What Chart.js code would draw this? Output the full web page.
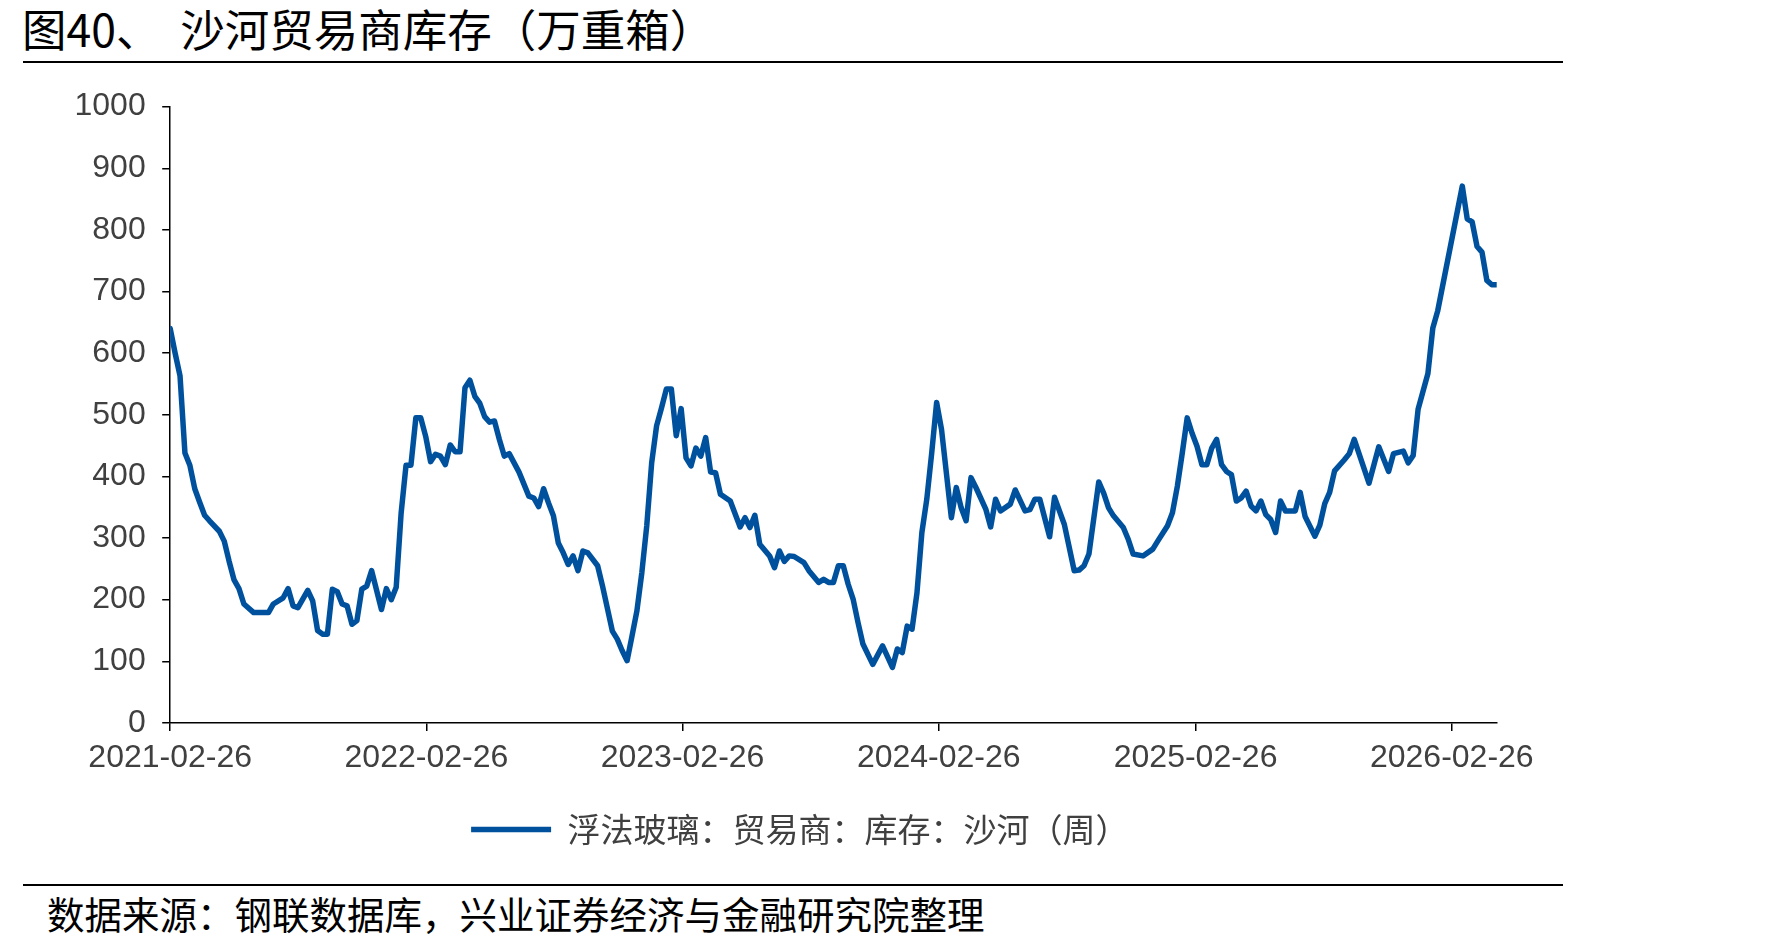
<!DOCTYPE html>
<html lang="zh-CN">
<head>
<meta charset="utf-8">
<title>沙河贸易商库存</title>
<script src="https://cdn.jsdelivr.net/npm/chart.js@4.4.1/dist/chart.umd.min.js"></script>
<style>
  html, body { margin: 0; padding: 0; background: #fff; }
  body { width: 1779px; height: 946px; position: relative; overflow: hidden; font-family: "Noto Sans CJK SC", sans-serif; }
  #title { position: absolute; left: 22px; top: 1px; font-size: 44.5px; line-height: 54px; color: #000; white-space: pre; }
  .rule { position: absolute; left: 23px; width: 1540px; height: 2px; background: #000; }
  #chartBox { position: absolute; left: 23px; top: 70px; width: 1540px; height: 800px; }
  #source { position: absolute; left: 47px; top: 890px; font-size: 37.5px; line-height: 46px; color: #000; white-space: pre; }
</style>
</head>
<body>
<div id="title">图40、  沙河贸易商库存（万重箱）</div>
<div class="rule" style="top: 61px;"></div>
<div id="chartBox"><canvas id="stockChart"></canvas></div>
<div class="rule" style="top: 884px;"></div>
<div id="source">数据来源：钢联数据库，兴业证券经济与金融研究院整理</div>

<script>
// 周度数据
const dates = [
    '2021-02-26', '2021-03-05', '2021-03-12', '2021-03-19', '2021-03-26', '2021-04-02', '2021-04-09', '2021-04-16',
    '2021-04-23', '2021-05-07', '2021-05-14', '2021-05-21', '2021-05-28', '2021-06-04', '2021-06-11', '2021-06-25',
    '2021-07-16', '2021-07-23', '2021-08-06', '2021-08-13', '2021-08-20', '2021-08-27', '2021-09-10', '2021-09-17',
    '2021-09-24', '2021-10-01', '2021-10-08', '2021-10-15', '2021-10-22', '2021-10-29', '2021-11-05', '2021-11-12',
    '2021-11-19', '2021-11-26', '2021-12-03', '2021-12-10', '2021-12-24', '2021-12-31',
    '2022-01-07', '2022-01-14', '2022-01-21', '2022-01-28', '2022-02-04', '2022-02-11', '2022-02-18', '2022-02-25',
    '2022-03-04', '2022-03-11', '2022-03-18', '2022-03-25', '2022-04-01', '2022-04-08', '2022-04-15', '2022-04-22',
    '2022-04-29', '2022-05-06', '2022-05-13', '2022-05-20', '2022-05-27', '2022-06-03', '2022-06-10', '2022-06-17',
    '2022-06-24', '2022-07-01', '2022-07-08', '2022-07-22', '2022-07-29', '2022-08-05', '2022-08-12', '2022-08-19',
    '2022-08-26', '2022-09-02', '2022-09-09', '2022-09-16', '2022-09-23', '2022-09-30', '2022-10-07', '2022-10-14',
    '2022-10-28', '2022-11-04', '2022-11-18', '2022-11-25', '2022-12-02', '2022-12-09', '2022-12-16', '2022-12-23',
    '2022-12-30',
    '2023-01-06', '2023-01-13', '2023-01-20', '2023-01-27', '2023-02-03', '2023-02-10', '2023-02-17', '2023-02-24',
    '2023-03-03', '2023-03-10', '2023-03-17', '2023-03-24', '2023-03-31', '2023-04-07', '2023-04-14', '2023-04-21',
    '2023-05-05', '2023-05-19', '2023-05-26', '2023-06-02', '2023-06-09', '2023-06-16', '2023-06-30', '2023-07-07',
    '2023-07-14', '2023-07-21', '2023-07-28', '2023-08-04', '2023-08-18', '2023-08-25', '2023-09-08', '2023-09-15',
    '2023-09-22', '2023-09-29', '2023-10-06', '2023-10-13', '2023-10-20', '2023-10-27', '2023-11-03', '2023-11-10',
    '2023-11-24', '2023-12-08', '2023-12-22', '2023-12-29',
    '2024-01-05', '2024-01-12', '2024-01-19', '2024-01-26', '2024-02-02', '2024-02-09', '2024-02-16', '2024-02-23',
    '2024-03-01', '2024-03-15', '2024-03-22', '2024-03-29', '2024-04-05', '2024-04-12', '2024-04-19', '2024-05-03',
    '2024-05-10', '2024-05-17', '2024-05-24', '2024-06-07', '2024-06-14', '2024-06-28', '2024-07-05', '2024-07-12',
    '2024-07-19', '2024-08-02', '2024-08-09', '2024-08-23', '2024-09-06', '2024-09-13', '2024-09-20', '2024-09-27',
    '2024-10-11', '2024-10-18', '2024-10-25', '2024-11-01', '2024-11-15', '2024-11-22', '2024-11-29', '2024-12-13',
    '2024-12-27',
    '2025-01-03', '2025-01-17', '2025-01-24', '2025-01-31', '2025-02-07', '2025-02-14', '2025-02-21', '2025-02-28',
    '2025-03-07', '2025-03-14', '2025-03-21', '2025-03-28', '2025-04-04', '2025-04-11', '2025-04-18', '2025-04-25',
    '2025-05-02', '2025-05-09', '2025-05-16', '2025-05-23', '2025-05-30', '2025-06-06', '2025-06-13', '2025-06-20',
    '2025-06-27', '2025-07-04', '2025-07-18', '2025-07-25', '2025-08-01', '2025-08-15', '2025-08-22', '2025-08-29',
    '2025-09-05', '2025-09-12', '2025-09-26', '2025-10-03', '2025-10-10', '2025-10-31', '2025-11-14', '2025-11-28',
    '2025-12-05', '2025-12-19', '2025-12-26',
    '2026-01-02', '2026-01-09', '2026-01-23', '2026-01-30', '2026-02-06', '2026-03-13', '2026-03-20', '2026-03-27',
    '2026-04-03', '2026-04-10', '2026-04-17', '2026-04-24', '2026-05-01'
];

const stockShahe = [
    640, 600, 563, 438, 418, 380, 358, 337,
    328, 311, 295, 262, 232, 218, 193, 179,
    179, 193, 203, 218, 190, 187, 215, 198,
    150, 144, 144, 217, 213, 193, 190, 160,
    166, 217, 222, 247, 184, 218,
    200, 220, 340, 418, 418, 495, 495, 465,
    424, 436, 433, 419, 451, 440, 440, 544,
    556, 530, 519, 497, 488, 490, 460, 433,
    437, 422, 407, 368, 365, 351, 380, 357,
    336, 292, 276, 257, 271, 247, 279, 276,
    255, 222, 149, 136, 117, 101, 141, 182,
    244,
    320, 422, 482, 511, 542, 542, 466, 510,
    430, 417, 446, 433, 463, 407, 406, 371,
    360, 318, 333, 317, 337, 290, 271, 252,
    279, 262, 271, 270, 260, 247, 228, 233,
    228, 228, 255, 255, 225, 201, 163, 128,
    95, 125, 90, 120,
    114, 157, 152, 211, 309, 363, 438, 520,
    476, 333, 382, 349, 328, 398, 382, 347,
    318, 363, 344, 355, 378, 344, 346, 363,
    363, 302, 366, 322, 247, 248, 255, 274,
    391, 373, 349, 336, 317, 298, 274, 271,
    282,
    295, 320, 341, 384, 438, 495, 470, 449,
    419, 419, 446, 460, 419, 408, 403, 360,
    365, 376, 352, 344, 360, 338, 330, 309,
    360, 344, 344, 374, 335, 303, 321, 356,
    374, 409, 427, 437, 460, 389, 448, 408,
    437, 441, 422,
    434, 509, 567, 641, 669, 871, 818, 813,
    773, 764, 718, 711, 711
];

const xTickDates = ['2021-02-26', '2022-02-26', '2023-02-26', '2024-02-26', '2025-02-26', '2026-02-26'];
const yTicks = [0, 100, 200, 300, 400, 500, 600, 700, 800, 900, 1000];

const seriesName = '浮法玻璃：贸易商：库存：沙河（周）';

function dayIndex(s) {
    const [y, m, d] = s.split('-').map(Number);
    return (Date.UTC(y, m - 1, d) - Date.UTC(2021, 1, 26)) / 86400000;
}

const points = dates.map((d, i) => ({ x: dayIndex(d), y: stockShahe[i] }));

// nudge the legend so it sits centred under the whole figure, not just the plot
const legendShift = {
    id: 'legendShift',
    afterLayout(chart) {
        const l = chart.legend;
        if (!l) return;
        l.left += 40;
        l.right += 40;
    }
};

const ctx = document.getElementById('stockChart').getContext('2d');
new Chart(ctx, {
    type: 'line',
    data: {
        datasets: [{
            label: seriesName,
            data: points,
            borderColor: '#00519D',
            backgroundColor: '#00519D',
            borderWidth: 5.5,
            borderJoinStyle: 'round',
            borderCapStyle: 'round',
            pointRadius: 0,
            pointStyle: 'line',
            tension: 0,
            fill: false
        }]
    },
    plugins: [legendShift],
    options: {
        responsive: true,
        maintainAspectRatio: false,
        animation: false,
        devicePixelRatio: 1,
        layout: { padding: { left: 0, right: 66.3, top: 36.65, bottom: 14 } },
        plugins: {
            title: { display: false },
            tooltip: { enabled: false },
            legend: {
                display: true,
                position: 'bottom',
                labels: {
                    usePointStyle: true,
                    pointStyle: 'line',
                    pointStyleWidth: 80,
                    boxHeight: 32,
                    padding: 10,
                    color: '#404040',
                    font: { family: '"Noto Sans CJK SC", sans-serif', size: 33 }
                }
            }
        },
        scales: {
            x: {
                type: 'linear',
                min: 0,
                max: dayIndex(dates[dates.length - 1]),
                afterBuildTicks: (s) => { s.ticks = xTickDates.map(d => ({ value: dayIndex(d) })); },
                afterFit: (s) => { s.height = 80.1; },
                border: { display: true, color: '#000', width: 1.5 },
                grid: { drawOnChartArea: false, drawTicks: true, tickLength: 8, color: '#000', lineWidth: 1.5 },
                ticks: {
                    autoSkip: false,
                    maxRotation: 0,
                    padding: 8,
                    color: '#404040',
                    font: { family: '"Liberation Sans", Arial, sans-serif', size: 32 },
                    callback: (v, i) => xTickDates[i]
                }
            },
            y: {
                min: 0,
                max: 1000,
                afterBuildTicks: (s) => { s.ticks = yTicks.map(v => ({ value: v })); },
                afterFit: (s) => { s.width = 147.2; },
                border: { display: true, color: '#000', width: 1.5 },
                grid: { drawOnChartArea: false, drawTicks: true, tickLength: 8, color: '#000', lineWidth: 1.5 },
                ticks: {
                    padding: 16.5,
                    color: '#404040',
                    font: { family: '"Liberation Sans", Arial, sans-serif', size: 32 },
                    callback: (v) => String(v)
                }
            }
        }
    }
});
</script>
</body>
</html>
